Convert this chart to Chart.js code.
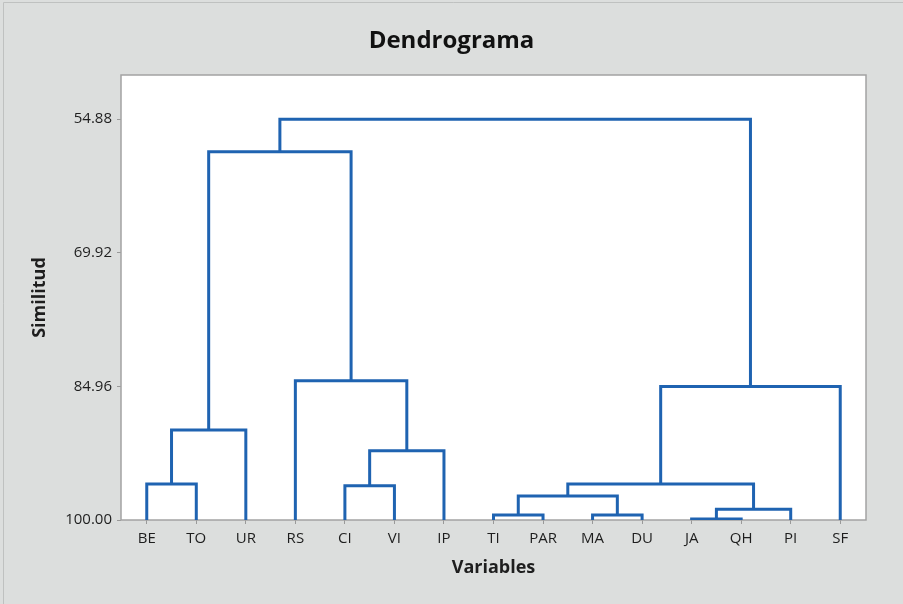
<!DOCTYPE html>
<html>
<head>
<meta charset="utf-8">
<script src="https://cdn.jsdelivr.net/npm/chart.js@4/dist/chart.umd.min.js"></script>
<style>
  html, body { margin: 0; padding: 0; background: #dcdedd; }
  #wrap { width: 903px; height: 604px; }
</style>
</head>
<body>
<div id="wrap"><canvas id="c" width="903" height="604"></canvas></div>
<script>
// Leaves (variables) in dendrogram order
const categories = ['BE','TO','UR','RS','CI','VI','IP','TI','PAR','MA','DU','JA','QH','PI','SF'];
// Merge steps: node ids 0..14 are leaves, merge k creates node 15+k
const mergeLeft  = [11, 7, 9, 15, 16, 0, 4, 19, 21, 20, 3, 22, 24, 27];
const mergeRight = [12, 8, 10, 13, 17, 1, 5, 18, 6, 2, 23, 14, 25, 26];
const mergeSimilarity = [99.89, 99.44, 99.44, 98.80, 97.30, 95.95, 96.13, 95.95, 92.20, 89.86, 84.31, 84.96, 58.53, 54.88];
// Axis tick labels
const yTicks = [54.88, 69.92, 84.96, 100.00];

const nodeX = categories.map((_, i) => i);
const nodeH = categories.map(() => 100);
const datasets = [];
for (let k = 0; k < mergeLeft.length; k++) {
  const a = mergeLeft[k], b = mergeRight[k], h = mergeSimilarity[k];
  datasets.push({
    data: [
      {x: nodeX[a], y: nodeH[a]},
      {x: nodeX[a], y: h},
      {x: nodeX[b], y: h},
      {x: nodeX[b], y: nodeH[b]}
    ],
    borderColor: '#1f63b1',
    borderWidth: 3,
    pointRadius: 0,
    tension: 0,
    fill: false,
    borderJoinStyle: 'miter',
    borderCapStyle: 'butt'
  });
  nodeX.push((nodeX[a] + nodeX[b]) / 2);
  nodeH.push(h);
}

const bgPlugin = {
  id: 'bg',
  beforeDraw(chart) {
    const ctx = chart.ctx, a = chart.chartArea;
    ctx.save();
    ctx.fillStyle = '#dcdedd';
    ctx.fillRect(0, 0, chart.width, chart.height);
    ctx.strokeStyle = '#bfc1c0';
    ctx.lineWidth = 1;
    ctx.beginPath();
    ctx.moveTo(3.5, chart.height);
    ctx.lineTo(3.5, 2.5);
    ctx.lineTo(chart.width, 2.5);
    ctx.stroke();
    ctx.fillStyle = '#ffffff';
    ctx.fillRect(a.left, a.top, a.right - a.left, a.bottom - a.top);
    ctx.restore();
  },
  beforeDatasetsDraw(chart) {
    const ctx = chart.ctx, a = chart.chartArea;
    ctx.save();
    ctx.strokeStyle = '#a3a3a3';
    ctx.lineWidth = 1.5;
    ctx.strokeRect(a.left, a.top, a.right - a.left, a.bottom - a.top);
    ctx.restore();
  }
};

new Chart(document.getElementById('c'), {
  type: 'line',
  data: { datasets },
  plugins: [bgPlugin],
  options: {
    responsive: false,
    devicePixelRatio: 1,
    animation: false,
    layout: { padding: 0 },
    plugins: {
      legend: { display: false },
      tooltip: { enabled: false },
      title: {
        display: true,
        text: 'Dendrograma',
        color: '#111',
        font: { family: 'Open Sans', size: 24, weight: 'bold', lineHeight: 1.2 },
        padding: { top: 27, bottom: 19.2 }
      }
    },
    scales: {
      x: {
        type: 'linear',
        min: -0.52,
        max: 14.52,
        afterBuildTicks(scale) { scale.ticks = categories.map((_, i) => ({ value: i })); },
        afterFit(scale) { scale.height = 84; },
        ticks: {
          autoSkip: false,
          maxRotation: 0,
          padding: 6,
          color: '#1e1e1e',
          font: { family: 'Open Sans', size: 15 },
          callback: (v) => categories[v]
        },
        grid: { drawOnChartArea: false, tickLength: 4, color: '#999', lineWidth: 1 },
        border: { display: false },
        title: {
          display: true,
          text: 'Variables',
          color: '#1e1e1e',
          font: { family: 'Open Sans', size: 18, weight: 'bold', lineHeight: 1.2 },
          padding: { top: 0, bottom: 25 }
        }
      },
      y: {
        type: 'linear',
        position: 'left',
        reverse: true,
        min: 49.9,
        max: 100,
        afterBuildTicks(scale) { scale.ticks = yTicks.map(v => ({ value: v })); },
        afterFit(scale) { scale.width = 121; },
        ticks: {
          padding: 5,
          color: '#1e1e1e',
          font: { family: 'Open Sans', size: 15 },
          callback: (v) => Number(v).toFixed(2)
        },
        grid: { drawOnChartArea: false, tickLength: 4, color: '#999', lineWidth: 1 },
        border: { display: false },
        title: {
          display: true,
          text: 'Similitud',
          color: '#1e1e1e',
          font: { family: 'Open Sans', size: 18, weight: 'bold', lineHeight: 1.2 },
          padding: { top: 29, bottom: 0 }
        }
      },
      yRight: {
        type: 'linear',
        position: 'right',
        display: true,
        afterFit(scale) { scale.width = 37; },
        ticks: { display: false },
        grid: { display: false, drawTicks: false },
        border: { display: false },
        title: { display: false }
      }
    }
  }
});
</script>
</body>
</html>
